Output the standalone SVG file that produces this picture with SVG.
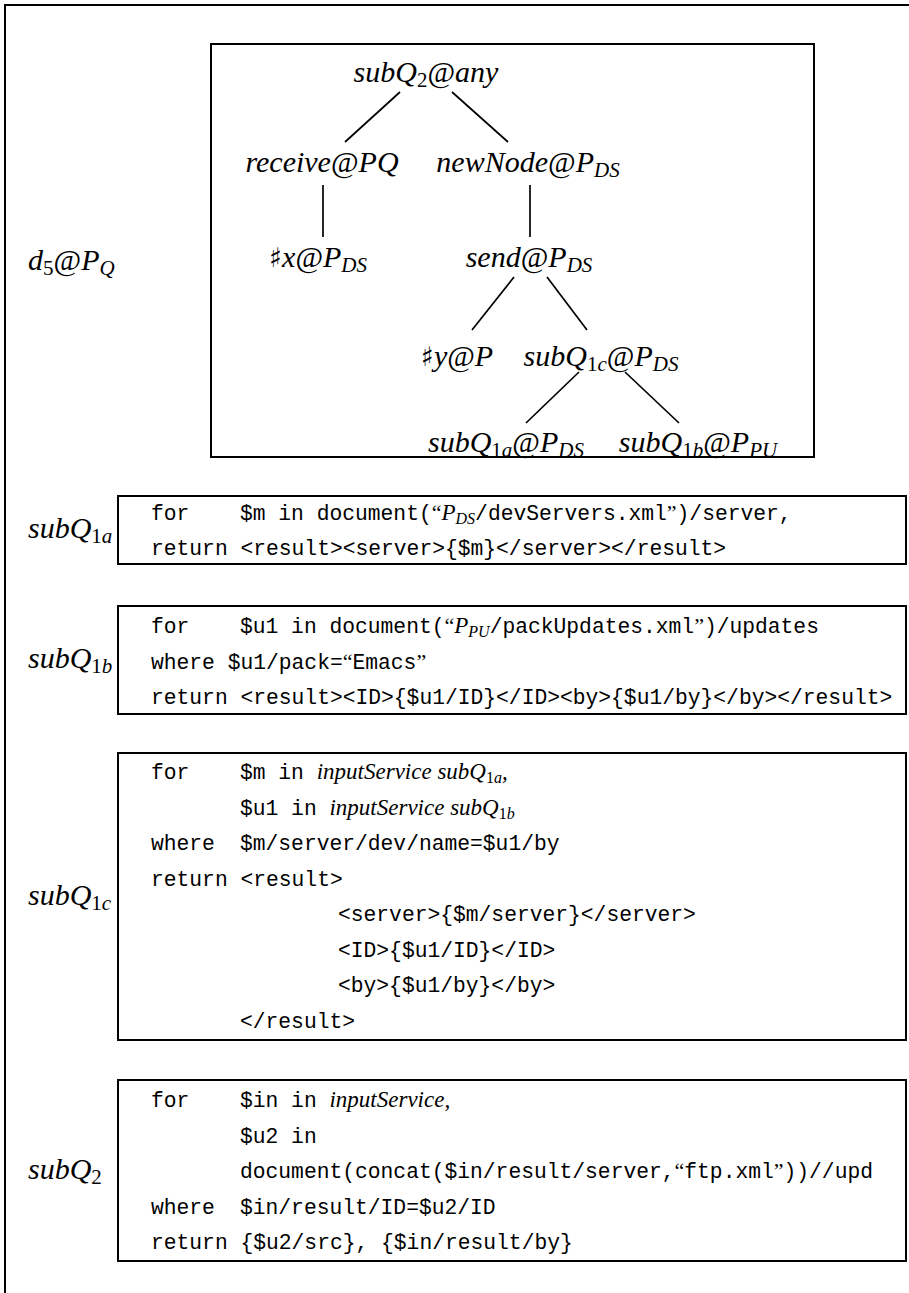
<svg xmlns="http://www.w3.org/2000/svg" width="909" height="1293" viewBox="0 0 909 1293">
<style>
text { fill:#000; }
.m { font-family:"Liberation Serif", serif; font-style:italic; font-size:30px; }
.r { font-style:normal; }
.s { font-size:21px; }
.sh { font-family:"DejaVu Serif", "DejaVu Sans", serif; font-style:normal; font-size:27px; fill:#000; }
.tt { font-family:"Liberation Mono", monospace; font-size:21.3px; }
.it { font-family:"Liberation Serif", serif; font-style:italic; font-size:23px; }
.its { font-family:"Liberation Serif", serif; font-style:italic; font-size:16px; }
.rs { font-family:"Liberation Serif", serif; font-style:normal; font-size:16px; }
.q { font-family:"Liberation Serif", serif; font-style:normal; font-size:22px; }
.box { fill:none; stroke:#000; stroke-width:2; }
.edge { stroke:#000; stroke-width:1.7; fill:none; }
</style>
<rect width="909" height="1293" fill="#fff"/>
<path class="box" d="M5,1293 V5 H909"/>

<g id="tree-frame">
<rect class="box" x="211" y="44" width="603" height="413"/>
</g>
<g id="label-d5">
<text class="m" x="28" y="270">d<tspan class="s r" dy="5">5</tspan><tspan class="r" dy="-5">@</tspan>P<tspan class="s" dy="5">Q</tspan></text>
</g>

<g id="connectors">
<line class="edge" x1="400" y1="92" x2="345" y2="142"/>
<line class="edge" x1="452" y1="92" x2="508" y2="142"/>
<line class="edge" x1="323" y1="185" x2="323" y2="237"/>
<line class="edge" x1="530" y1="185" x2="530" y2="237"/>
<line class="edge" x1="514" y1="277" x2="472" y2="330"/>
<line class="edge" x1="547" y1="277" x2="587" y2="330"/>
<line class="edge" x1="579" y1="372" x2="526" y2="423"/>
<line class="edge" x1="625" y1="372" x2="679" y2="423"/>
</g>

<g id="n-root"><text class="m" x="426" y="82" text-anchor="middle">subQ<tspan class="s r" dy="5">2</tspan><tspan class="r" dy="-5">@</tspan>any</text></g>
<g id="n-receive"><text class="m" x="322" y="172" text-anchor="middle">receive<tspan class="r">@</tspan>PQ</text></g>
<g id="n-newnode"><text class="m" x="528" y="172" text-anchor="middle">newNode<tspan class="r">@</tspan>P<tspan class="s" dy="5">DS</tspan></text></g>
<g id="n-x"><text class="m" x="318" y="267" text-anchor="middle"><tspan class="sh">♯</tspan>x<tspan class="r">@</tspan>P<tspan class="s" dy="5">DS</tspan></text></g>
<g id="n-send"><text class="m" x="529" y="267" text-anchor="middle">send<tspan class="r">@</tspan>P<tspan class="s" dy="5">DS</tspan></text></g>
<g id="n-y"><text class="m" x="457" y="366" text-anchor="middle"><tspan class="sh">♯</tspan>y<tspan class="r">@</tspan>P</text></g>
<g id="n-subq1c"><text class="m" x="601" y="366" text-anchor="middle">subQ<tspan class="s r" dy="5">1</tspan><tspan class="s">c</tspan><tspan class="r" dy="-5">@</tspan>P<tspan class="s" dy="5">DS</tspan></text></g>
<g id="n-subq1a"><text class="m" x="506" y="452" text-anchor="middle">subQ<tspan class="s r" dy="5">1</tspan><tspan class="s">a</tspan><tspan class="r" dy="-5">@</tspan>P<tspan class="s" dy="5">DS</tspan></text></g>
<g id="n-subq1b"><text class="m" x="698" y="452" text-anchor="middle">subQ<tspan class="s r" dy="5">1</tspan><tspan class="s">b</tspan><tspan class="r" dy="-5">@</tspan>P<tspan class="s" dy="5">PU</tspan></text></g>

<g id="q-subq1a">
<text class="m" x="28" y="538">subQ<tspan class="s r" dy="5">1</tspan><tspan class="s">a</tspan></text>
<rect class="box" x="118" y="496" width="788" height="68"/>
<text class="tt" y="520"><tspan x="151">for</tspan><tspan x="240">$m in document(</tspan><tspan class="q">“</tspan><tspan class="it">P</tspan><tspan class="its" dy="4">DS</tspan><tspan dy="-4">/devServers.xml</tspan><tspan class="q">”</tspan>)/server,</text>
<text class="tt" x="151" y="555">return &lt;result&gt;&lt;server&gt;{$m}&lt;/server&gt;&lt;/result&gt;</text>
</g>

<g id="q-subq1b">
<text class="m" x="28" y="668">subQ<tspan class="s r" dy="5">1</tspan><tspan class="s">b</tspan></text>
<rect class="box" x="118" y="606" width="788" height="108"/>
<text class="tt" y="633"><tspan x="151">for</tspan><tspan x="240">$u1 in document(</tspan><tspan class="q">“</tspan><tspan class="it">P</tspan><tspan class="its" dy="4">PU</tspan><tspan dy="-4">/packUpdates.xml</tspan><tspan class="q">”</tspan>)/updates</text>
<text class="tt" x="151" y="668.5">where $u1/pack=<tspan class="q">“</tspan>Emacs<tspan class="q">”</tspan></text>
<text class="tt" x="151" y="704">return &lt;result&gt;&lt;ID&gt;{$u1/ID}&lt;/ID&gt;&lt;by&gt;{$u1/by}&lt;/by&gt;&lt;/result&gt;</text>
</g>

<g id="q-subq1c">
<text class="m" x="28" y="905">subQ<tspan class="s r" dy="5">1</tspan><tspan class="s">c</tspan></text>
<rect class="box" x="118" y="753" width="788" height="287"/>
<text class="tt" y="779"><tspan x="151">for</tspan><tspan x="240">$m in </tspan><tspan class="it">inputService subQ</tspan><tspan class="rs" dy="4">1</tspan><tspan class="its">a</tspan><tspan class="it" dy="-4">,</tspan></text>
<text class="tt" y="814.5"><tspan x="240">$u1 in </tspan><tspan class="it">inputService subQ</tspan><tspan class="rs" dy="4">1</tspan><tspan class="its">b</tspan></text>
<text class="tt" y="850"><tspan x="151">where</tspan><tspan x="240">$m/server/dev/name=$u1/by</tspan></text>
<text class="tt" x="151" y="885.5">return &lt;result&gt;</text>
<text class="tt" x="338" y="921">&lt;server&gt;{$m/server}&lt;/server&gt;</text>
<text class="tt" x="338" y="956.5">&lt;ID&gt;{$u1/ID}&lt;/ID&gt;</text>
<text class="tt" x="338" y="992">&lt;by&gt;{$u1/by}&lt;/by&gt;</text>
<text class="tt" x="240" y="1027.5">&lt;/result&gt;</text>
</g>

<g id="q-subq2">
<text class="m" x="28" y="1179">subQ<tspan class="s r" dy="5">2</tspan></text>
<rect class="box" x="118" y="1080" width="788" height="181"/>
<text class="tt" y="1107"><tspan x="151">for</tspan><tspan x="240">$in in </tspan><tspan class="it">inputService,</tspan></text>
<text class="tt" x="240" y="1142.5">$u2 in</text>
<text class="tt" x="240" y="1178">document(concat($in/result/server,<tspan class="q">“</tspan>ftp.xml<tspan class="q">”</tspan>))//upd</text>
<text class="tt" y="1213.5"><tspan x="151">where</tspan><tspan x="240">$in/result/ID=$u2/ID</tspan></text>
<text class="tt" x="151" y="1249">return {$u2/src}, {$in/result/by}</text>
</g>
</svg>
